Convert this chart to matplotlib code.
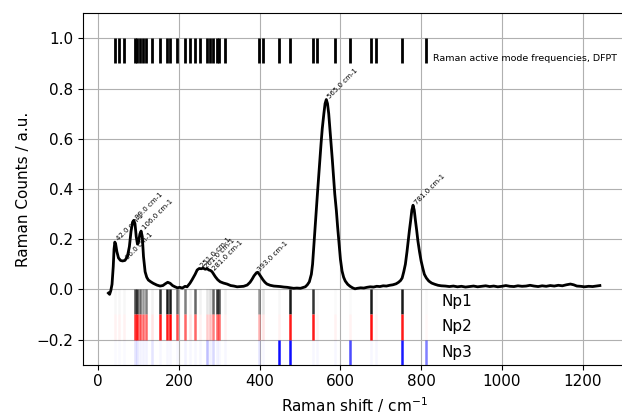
import matplotlib
matplotlib.use("Agg")
import matplotlib.pyplot as plt
from matplotlib.colors import to_rgba

raman_shift = [25, 28, 31, 34, 37, 39, 41, 43, 46, 50, 55, 60, 66, 72, 77, 81, 85, 88,
               91, 94, 97, 100, 103, 106, 109, 112, 116, 120, 124, 130, 136, 145, 153,
               160, 166, 172, 178, 184, 190, 196, 202, 208, 215, 220, 227, 232, 240,
               245, 250, 255, 260, 265, 270, 274, 278, 282, 286, 290, 296, 302, 310,
               319, 328, 336, 344, 352, 360, 369, 376, 381, 386, 392, 395, 399, 403,
               408, 413, 418, 426, 435, 443, 451, 460, 468, 476, 484, 492, 501, 507,
               513, 518, 523, 528, 531, 534, 537, 540, 543, 546, 549, 552, 555, 559,
               562, 565, 568, 571, 574, 577, 580, 583, 586, 590, 593, 596, 600, 604,
               608, 612, 618, 624, 630, 636, 642, 650, 658, 666, 674, 682, 690, 698,
               706, 714, 722, 730, 738, 744, 749, 753, 757, 761, 765, 768, 771, 774,
               777, 780, 783, 786, 789, 792, 796, 800, 804, 808, 813, 819, 826, 834,
               842, 850, 860, 870, 880, 890, 900, 910, 920, 930, 940, 950, 960, 970,
               980, 990, 1000, 1010, 1020, 1030, 1040, 1050, 1060, 1070, 1080, 1090,
               1100, 1110, 1120, 1130, 1140, 1150, 1160, 1170, 1178, 1186, 1195, 1205,
               1215, 1225, 1235, 1243]
raman_counts = [-0.015, -0.02, -0.005, 0.02, 0.09, 0.16, 0.188, 0.18, 0.15, 0.125, 0.115,
                0.113, 0.115, 0.13, 0.17, 0.23, 0.268, 0.275, 0.26, 0.21, 0.18, 0.19,
                0.22, 0.232, 0.21, 0.13, 0.07, 0.048, 0.037, 0.03, 0.024, 0.017, 0.013,
                0.015, 0.022, 0.028, 0.024, 0.015, 0.01, 0.006, 0.008, 0.005, 0.012,
                0.01, 0.024, 0.037, 0.06, 0.077, 0.083, 0.082, 0.084, 0.08, 0.082,
                0.077, 0.075, 0.07, 0.06, 0.05, 0.038, 0.03, 0.025, 0.021, 0.015,
                0.013, 0.01, 0.011, 0.012, 0.017, 0.028, 0.04, 0.054, 0.066, 0.068,
                0.06, 0.05, 0.038, 0.028, 0.021, 0.016, 0.013, 0.012, 0.011, 0.009,
                0.008, 0.006, 0.004, 0.005, 0.004, 0.007, 0.01, 0.018, 0.03, 0.06, 0.1,
                0.167, 0.24, 0.313, 0.38, 0.447, 0.515, 0.58, 0.64, 0.70, 0.74, 0.756,
                0.74, 0.70, 0.64, 0.58, 0.515, 0.447, 0.38, 0.313, 0.25, 0.193, 0.12,
                0.073, 0.048, 0.033, 0.02, 0.012, 0.006, 0.002, 0.004, 0.006, 0.005,
                0.008, 0.01, 0.009, 0.012, 0.011, 0.014, 0.013, 0.016, 0.018, 0.022,
                0.028, 0.035, 0.045, 0.07, 0.10, 0.15, 0.193, 0.235, 0.273, 0.315,
                0.335, 0.315, 0.273, 0.235, 0.193, 0.15, 0.113, 0.085, 0.06, 0.045,
                0.033, 0.025, 0.02, 0.016, 0.014, 0.013, 0.011, 0.013, 0.01, 0.012,
                0.009, 0.011, 0.013, 0.01, 0.012, 0.014, 0.011, 0.013, 0.01, 0.012,
                0.015, 0.012, 0.011, 0.014, 0.012, 0.013, 0.016, 0.013, 0.011, 0.014,
                0.012, 0.015, 0.013, 0.016, 0.014, 0.018, 0.021, 0.018, 0.013, 0.012,
                0.01, 0.012, 0.011, 0.013, 0.015]

# labelled peaks
peak_pos = [42, 66, 89, 106, 251, 261, 281, 393, 565, 781]
peak_height = [0.188, 0.115, 0.275, 0.232, 0.083, 0.08, 0.07, 0.066, 0.756, 0.335]

# DFPT Raman active modes and relative activity per nanoparticle
dfpt_freq = [41, 51, 64, 91, 97, 103, 110, 118, 132, 153, 169, 178, 196, 215, 227, 240,
             252, 269, 277, 285, 293, 300, 314, 397, 409, 449, 475, 531, 541, 587, 624,
             676, 688, 752, 812]
np1_act = [0.03, 0.03, 0.03, 0.7, 0.8, 0.6, 0.4, 0.5, 0.05, 0.8, 0.9, 0.9, 0.6, 0.5,
           0.05, 0.6, 0.05, 0.1, 0.15, 0.6, 0.8, 0.7, 0.05, 0.4, 0.1, 0.03, 0.9, 0.8,
           0.02, 0.02, 0.02, 0.9, 0.02, 0.9, 0.02]
np2_act = [0.05, 0.05, 0.05, 0.8, 0.9, 0.7, 0.6, 0.6, 0.1, 0.9, 0.9, 1.0, 0.7, 0.6,
           0.1, 0.6, 0.05, 0.2, 0.25, 0.5, 0.6, 0.6, 0.05, 0.3, 0.1, 0.05, 0.9, 0.9,
           0.05, 0.05, 0.05, 0.95, 0.05, 0.9, 0.03]
np3_act = [0.02, 0.02, 0.02, 0.1, 0.1, 0.05, 0.05, 0.05, 0.1, 0.03, 0.03, 0.03, 0.03,
           0.05, 0.03, 0.03, 0.03, 0.25, 0.05, 0.15, 0.05, 0.03, 0.03, 0.1, 0.03, 0.95,
           0.95, 0.03, 0.03, 0.03, 0.7, 0.03, 0.03, 0.9, 0.5]


def colours(base, acts):
    return [to_rgba(base, a) for a in acts]


fig = plt.figure(figsize=(6.22, 4.15), dpi=100)
ax = fig.add_axes([0.1334, 0.1214, 0.8719, 0.8468])

ax.plot(raman_shift, raman_counts, color="black", lw=2)

for p, h in zip(peak_pos, peak_height):
    ax.text(p, h, f"{p:.1f} cm-1", rotation=45, fontsize=5,
            ha="left", va="bottom")

ax.vlines(dfpt_freq, 0.9, 1.0, color="black", lw=2)
ax.text(830, 0.9, "Raman active mode frequencies, DFPT", fontsize=6.8,
        va="bottom")

ax.vlines(dfpt_freq, -0.1, 0.0, colors=colours("black", np1_act), lw=1.8)
ax.vlines(dfpt_freq, -0.2, -0.1, colors=colours("red", np2_act), lw=1.8)
ax.vlines(dfpt_freq, -0.3, -0.2, colors=colours("blue", np3_act), lw=1.8)

ax.text(850, -0.05, "Np1", fontsize=11, va="center")
ax.text(850, -0.15, "Np2", fontsize=11, va="center")
ax.text(850, -0.25, "Np3", fontsize=11, va="center")

ax.set_xlim(-38, 1306)
ax.set_ylim(-0.3, 1.1)
ax.set_xticks([0, 200, 400, 600, 800, 1000, 1200])
ax.set_yticks([-0.2, 0.0, 0.2, 0.4, 0.6, 0.8, 1.0])
ax.tick_params(labelsize=11)
ax.set_xlabel("Raman shift / cm$^{-1}$", fontsize=11)
ax.set_ylabel("Raman Counts / a.u.", fontsize=11)
ax.grid(True)

fig.savefig("out.png", dpi=100)
